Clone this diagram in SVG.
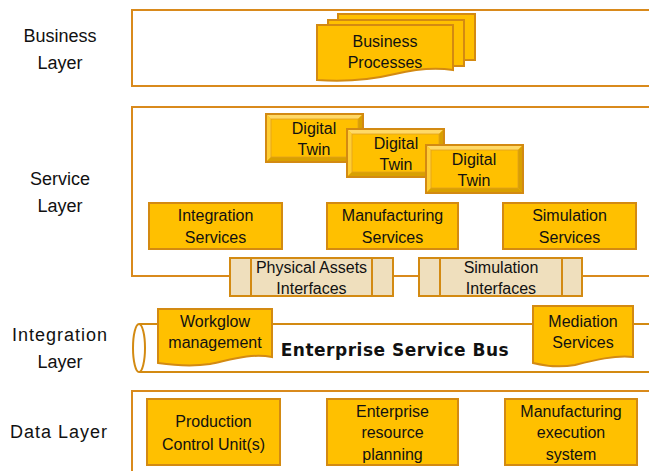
<svg xmlns="http://www.w3.org/2000/svg" width="649" height="471" viewBox="0 0 649 471">
<style>
text{font-family:"Liberation Sans",Arial,sans-serif;fill:#111;text-anchor:middle}
.lbl{font-size:18px}
.t{font-size:16px}
.layer{fill:#fff;stroke:#D98A1C;stroke-width:2}
.box{fill:#FFC000;stroke:#D38A12;stroke-width:2}
.ifc{fill:#EFDFBD;stroke:#D38A12;stroke-width:2}
.ln{fill:none;stroke:#D38A12;stroke-width:2}
.hi{fill:#FFD966}
.lo{fill:#D9A000}
.esb{font-family:"DejaVu Sans",Verdana,sans-serif;font-weight:bold;font-size:17px;letter-spacing:0.5px}
</style>
<defs>
<g id="dt">
<rect x="0" y="0" width="97" height="48" fill="#FFC000"/>
<polygon points="0,0 97,0 92,5 5,5" class="hi"/>
<polygon points="0,0 5,5 5,43 0,48" fill="#FFCD33"/>
<polygon points="97,0 97,48 92,43 92,5" class="lo"/>
<polygon points="0,48 97,48 92,43 5,43" class="lo"/>
<rect x="0" y="0" width="97" height="48" fill="none" stroke="#D38A12" stroke-width="2"/>
<rect x="5" y="5" width="87" height="38" fill="none" stroke="#E0A020" stroke-width="0.8"/>
</g>
</defs>

<g id="layer-labels">
<text class="lbl" x="60" y="42">Business</text>
<text class="lbl" x="60" y="69">Layer</text>
<text class="lbl" x="60" y="185">Service</text>
<text class="lbl" x="60" y="212">Layer</text>
<text class="lbl" x="60" y="341" style="letter-spacing:1px">Integration</text>
<text class="lbl" x="60" y="368">Layer</text>
<text class="lbl" x="59" y="438" style="letter-spacing:1px">Data Layer</text>
</g>

<g id="business-layer">
<rect class="layer" x="132" y="10" width="530" height="76"/>
</g>
<g id="business-processes">
<rect class="box" x="338" y="14" width="137" height="46"/>
<rect class="box" x="328" y="20" width="136" height="46"/>
<path class="box" d="M317,25 H453 V70 C440,68 420,68 395,74 C370,80 345,82 317,80 Z"/>
<text class="t" x="385" y="47">Business</text>
<text class="t" x="385" y="68">Processes</text>
</g>

<g id="service-layer">
<rect class="layer" x="132" y="107" width="530" height="169"/>
</g>
<g id="digital-twin-1">
<use href="#dt" x="266" y="114"/>
<text class="t" x="314" y="134">Digital</text>
<text class="t" x="314" y="155">Twin</text>
</g>
<g id="digital-twin-2">
<use href="#dt" x="347" y="129"/>
<text class="t" x="396" y="149">Digital</text>
<text class="t" x="396" y="170">Twin</text>
</g>
<g id="digital-twin-3">
<use href="#dt" x="426" y="145"/>
<text class="t" x="474" y="165">Digital</text>
<text class="t" x="474" y="186">Twin</text>
</g>
<g id="integration-services">
<rect class="box" x="149" y="203" width="133" height="46"/>
<text class="t" x="215.5" y="221">Integration</text>
<text class="t" x="215.5" y="243">Services</text>
</g>
<g id="manufacturing-services">
<rect class="box" x="327" y="203" width="131" height="46"/>
<text class="t" x="392.5" y="221">Manufacturing</text>
<text class="t" x="392.5" y="243">Services</text>
</g>
<g id="simulation-services">
<rect class="box" x="503" y="203" width="133" height="46"/>
<text class="t" x="569.5" y="221">Simulation</text>
<text class="t" x="569.5" y="243">Services</text>
</g>
<g id="physical-assets-interfaces">
<rect class="ifc" x="230" y="258" width="163" height="38"/>
<line class="ln" x1="251" y1="258" x2="251" y2="296"/>
<line class="ln" x1="372" y1="258" x2="372" y2="296"/>
<text class="t" x="311.5" y="273">Physical Assets</text>
<text class="t" x="311.5" y="294">Interfaces</text>
</g>
<g id="simulation-interfaces">
<rect class="ifc" x="419" y="258" width="163" height="38"/>
<line class="ln" x1="440" y1="258" x2="440" y2="296"/>
<line class="ln" x1="562" y1="258" x2="562" y2="296"/>
<text class="t" x="501" y="273">Simulation</text>
<text class="t" x="501" y="294">Interfaces</text>
</g>

<g id="enterprise-service-bus">
<path d="M139,324 H670 V372 H139 Z" fill="#fff"/>
<line class="ln" x1="139" y1="324" x2="670" y2="324"/>
<line class="ln" x1="139" y1="372" x2="670" y2="372"/>
<ellipse class="ln" cx="139" cy="348" rx="6" ry="24" style="fill:#fff"/>
<text class="esb" x="395" y="356">Enterprise Service Bus</text>
</g>
<g id="workflow-management">
<path class="box" d="M158,309 H272 V357 C250,353 230,360 210,364 C190,367 172,365 158,363 Z"/>
<text class="t" x="215" y="327">Workglow</text>
<text class="t" x="215" y="348">management</text>
</g>
<g id="mediation-services">
<path class="box" d="M533,306 H633 V357 C615,355 595,360 575,365 C558,368 545,366 533,363 Z"/>
<text class="t" x="583" y="327">Mediation</text>
<text class="t" x="583" y="348">Services</text>
</g>

<g id="data-layer">
<rect class="layer" x="132" y="391" width="530" height="100"/>
</g>
<g id="production-control-units">
<rect class="box" x="147" y="399" width="133" height="66"/>
<text class="t" x="213.5" y="427">Production</text>
<text class="t" x="213.5" y="450">Control Unit(s)</text>
</g>
<g id="enterprise-resource-planning">
<rect class="box" x="327" y="399" width="131" height="66"/>
<text class="t" x="392.5" y="417">Enterprise</text>
<text class="t" x="392.5" y="438">resource</text>
<text class="t" x="392.5" y="460">planning</text>
</g>
<g id="manufacturing-execution-system">
<rect class="box" x="505" y="399" width="132" height="66"/>
<text class="t" x="571" y="417">Manufacturing</text>
<text class="t" x="571" y="438">execution</text>
<text class="t" x="571" y="460">system</text>
</g>
<g id="connectors"></g>
</svg>
